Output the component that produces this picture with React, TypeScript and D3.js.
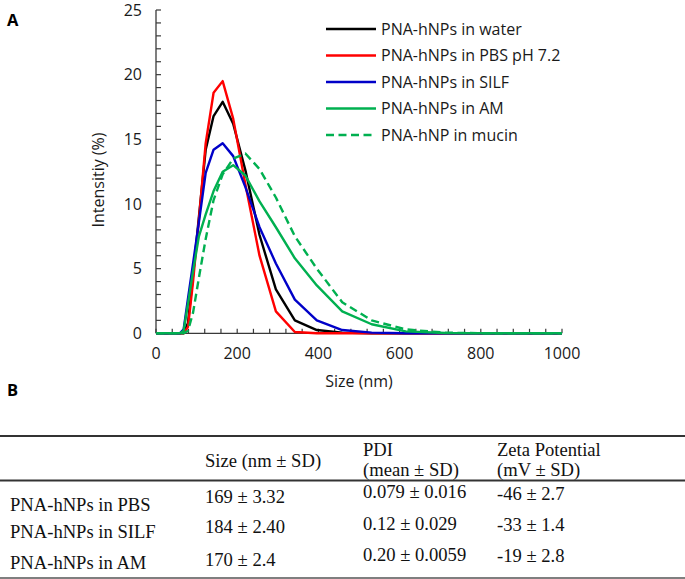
import React from "react";
import * as d3 from "d3";

const sizes = [0.4, 58.77, 68.06, 78.82, 91.28, 105.7, 122.4, 141.8, 164.2, 190.1, 220.2, 255.0, 295.3, 342.0, 396.1, 458.7, 531.2, 615.1, 712.4, 825.0, 955.4, 1106];
const water = [0, 0, 0, 0.8, 4.5, 9.0, 14.2, 16.8, 17.9, 16.2, 12.6, 7.6, 3.4, 1.0, 0.25, 0.05, 0, 0, 0, 0, 0, 0];
const pbs = [0, 0, 0, 0.5, 4.0, 8.8, 14.7, 18.6, 19.5, 16.6, 11.5, 6.0, 1.7, 0.1, 0, 0, 0, 0, 0, 0, 0, 0];
const silf = [0, 0, 0.3, 2.7, 5.4, 8.6, 12.4, 14.2, 14.7, 13.7, 11.3, 8.2, 5.4, 2.6, 1.0, 0.25, 0.05, 0, 0, 0, 0, 0];
const am = [0, 0, 0.2, 2.3, 4.8, 7.5, 9.2, 11.0, 12.5, 13.0, 12.2, 10.2, 8.2, 5.8, 3.7, 1.7, 0.7, 0.15, 0.02, 0, 0, 0];
const mucin = [0, 0, 0, 0.2, 1.6, 4.3, 7.3, 10.3, 12.3, 13.5, 13.9, 12.7, 10.5, 7.5, 5.0, 2.4, 1.0, 0.3, 0.05, 0, 0, 0];

const seriesNames = ["PNA-hNPs in water", "PNA-hNPs in PBS pH 7.2", "PNA-hNPs in SILF", "PNA-hNPs in AM", "PNA-hNP in mucin"];
const seriesValues = [water, pbs, silf, am, mucin];
const seriesColors = ["#000000", "#FF0000", "#0000C8", "#00B050", "#00B050"];
const seriesDashed = [false, false, false, false, true];

const xTicks = [0, 200, 400, 600, 800, 1000];
const yTicks = [0, 5, 10, 15, 20, 25];

const tableHeader = ["", "Size (nm ± SD)", "PDI|(mean ± SD)", "Zeta Potential|(mV ± SD)"];
const tableRows = [
  ["PNA-hNPs in PBS", "169 ± 3.32", "0.079 ± 0.016", "-46 ± 2.7"],
  ["PNA-hNPs in SILF", "184 ± 2.40", "0.12 ± 0.029", "-33 ± 1.4"],
  ["PNA-hNPs in AM", "170 ± 2.4", "0.20 ± 0.0059", "-19 ± 2.8"],
];

export default function App() {
  const W = 685, H = 579;
  const x = d3.scaleLinear().domain([0, 1000]).range([156, 562]);
  const y = d3.scaleLinear().domain([0, 25]).range([333.3, 10]);
  const sans = "'Open Sans', sans-serif";
  const serif = "'Liberation Serif', 'Times New Roman', serif";
  const axisColor = "#3a3a3a";
  const fs = 16;
  const tfs = 18.6;

  const line = (vals: number[]) =>
    d3.line<number>().x((_, i) => x(sizes[i])).y((d) => y(d))(vals) || "";

  const minorX = d3.range(0, 1001, 40);
  const minorY = d3.range(0, 26, 1);

  const colX = [10, 205, 363, 497];
  const rowLabelY = [511, 538, 569];
  const rowValY = [[511, 503, 498, 500], [538, 533, 530, 531], [569, 566, 561, 562]];

  return (
    <svg width={W} height={H} style={{ position: "absolute", left: 0, top: 0, background: "#fff" }}>
      <defs>
        <clipPath id="plotclip">
          <rect x={x(0) - 2} y={0} width={x(1000) - x(0) + 2} height={345} />
        </clipPath>
      </defs>
      <text x={7} y={26} fontFamily={sans} fontWeight="bold" fontSize={16.5}>A</text>

      {/* axes */}
      <line x1={x(0)} x2={x(0)} y1={y(25)} y2={y(0)} stroke={axisColor} strokeWidth={1.3} />
      <line x1={x(0)} x2={x(1000)} y1={y(0)} y2={y(0)} stroke={axisColor} strokeWidth={1.3} />
      {minorY.map((v) => (
        <line key={"yt" + v} x1={x(0)} x2={x(0) + 5} y1={y(v)} y2={y(v)} stroke={axisColor} strokeWidth={1.2} />
      ))}
      {minorX.map((v) => (
        <line key={"xt" + v} x1={x(v)} x2={x(v)} y1={y(0)} y2={y(0) - 4.5} stroke={axisColor} strokeWidth={1.2} />
      ))}
      {yTicks.map((v) => (
        <text key={"yl" + v} x={142} y={y(v)} dy="0.36em" textAnchor="end" fontFamily={sans} fontSize={fs} fill="#1a1a1a">{v}</text>
      ))}
      {xTicks.map((v) => (
        <text key={"xl" + v} x={x(v)} y={359} textAnchor="middle" fontFamily={sans} fontSize={fs} fill="#1a1a1a">{v}</text>
      ))}
      <text x={359} y={387} textAnchor="middle" fontFamily={sans} fontSize={fs} fill="#1a1a1a">Size (nm)</text>
      <text transform="translate(98,180) rotate(-90)" dy="0.36em" textAnchor="middle" fontFamily={sans} fontSize={fs} fill="#1a1a1a">Intensitiy (%)</text>

      {/* series */}
      <g clipPath="url(#plotclip)">
        {seriesValues.map((vals, i) => (
          <path key={"s" + i} d={line(vals)} fill="none" stroke={seriesColors[i]} strokeWidth={2.4}
            strokeLinejoin="round" strokeDasharray={seriesDashed[i] ? "8,4.5" : undefined} />
        ))}
      </g>

      {/* legend */}
      {seriesNames.map((name, i) => {
        const ly = 29 + i * 26.5;
        return (
          <g key={"lg" + i}>
            <line x1={326} x2={376} y1={ly} y2={ly} stroke={seriesColors[i]} strokeWidth={2.4}
              strokeDasharray={seriesDashed[i] ? "8,4.5" : undefined} />
            <text x={381} y={ly} dy="0.36em" fontFamily={sans} fontSize={fs} fill="#1a1a1a">{name}</text>
          </g>
        );
      })}

      {/* Panel B */}
      <text x={7} y={396} fontFamily={sans} fontWeight="bold" fontSize={16.5}>B</text>
      <line x1={0} x2={W} y1={436} y2={436} stroke="#333" strokeWidth={2} />
      <line x1={0} x2={W} y1={480.5} y2={480.5} stroke="#333" strokeWidth={2} />
      <line x1={0} x2={W} y1={578} y2={578} stroke="#555" strokeWidth={1.5} />
      {tableHeader.map((h, j) => {
        if (!h) return null;
        const parts = h.split("|");
        if (parts.length === 1)
          return <text key={"h" + j} x={colX[j]} y={467} fontFamily={serif} fontSize={tfs} fill="#111">{parts[0]}</text>;
        return (
          <g key={"h" + j}>
            <text x={colX[j]} y={456} fontFamily={serif} fontSize={tfs} fill="#111">{parts[0]}</text>
            <text x={colX[j]} y={476} fontFamily={serif} fontSize={tfs} fill="#111">{parts[1]}</text>
          </g>
        );
      })}
      {tableRows.map((row, r) =>
        row.map((cell, c) => (
          <text key={"c" + r + "_" + c} x={colX[c]} y={c === 0 ? rowLabelY[r] : rowValY[r][c]} fontFamily={serif} fontSize={tfs} fill="#111">{cell}</text>
        ))
      )}
    </svg>
  );
}
